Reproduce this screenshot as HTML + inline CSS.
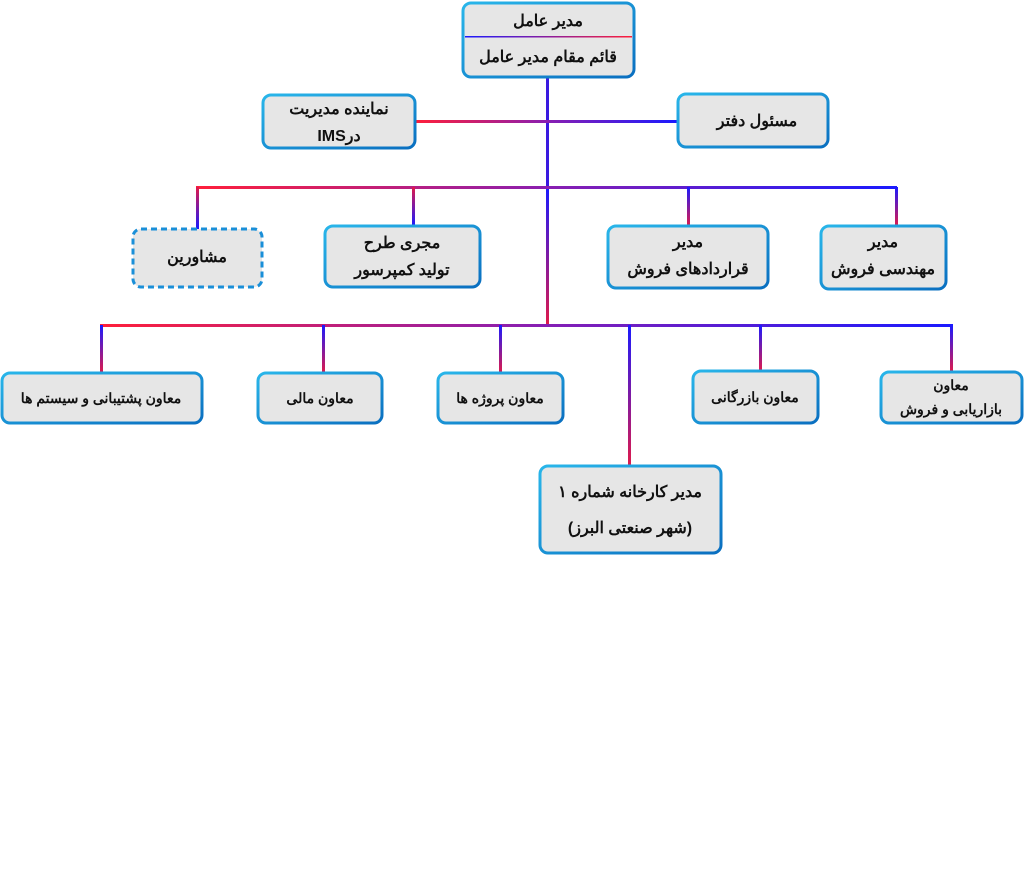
<!DOCTYPE html>
<html><head><meta charset="utf-8"><style>
html,body{margin:0;padding:0;background:#fff;width:1024px;height:895px;overflow:hidden}
svg text{font-family:"Liberation Sans","Noto Sans CJK SC",sans-serif;font-weight:bold;fill:#111}
</style></head><body>
<svg width="1024" height="895" viewBox="0 0 1024 895" xmlns="http://www.w3.org/2000/svg">
<defs>
<linearGradient id="hr" x1="0" x2="1" y1="0" y2="0"><stop offset="0" stop-color="#ff1f3a"/><stop offset="0.5" stop-color="#8a1fb0"/><stop offset="1" stop-color="#1a1aff"/></linearGradient>
<linearGradient id="hb" x1="0" x2="1" y1="0" y2="0"><stop offset="0" stop-color="#1a1aff"/><stop offset="1" stop-color="#ff1f3a"/></linearGradient>
<linearGradient id="vb" x1="0" x2="0" y1="0" y2="1"><stop offset="0" stop-color="#1a1aff"/><stop offset="1" stop-color="#e01a4a"/></linearGradient>
<linearGradient id="vr" x1="0" x2="0" y1="0" y2="1"><stop offset="0" stop-color="#e01a4a"/><stop offset="1" stop-color="#1a1aff"/></linearGradient>
<linearGradient id="bd" x1="0" x2="1" y1="0" y2="1"><stop offset="0" stop-color="#29b6ea"/><stop offset="1" stop-color="#0a6fc0"/></linearGradient>
</defs>
<rect x="546" y="77" width="3" height="110" fill="#3a1ae0"/>
<rect x="546" y="187" width="3" height="138" fill="url(#vb)"/>
<rect x="415" y="120" width="263" height="3" fill="url(#hr)"/>
<rect x="196" y="186" width="701" height="3" fill="url(#hr)"/>
<rect x="100" y="324" width="853" height="3" fill="url(#hr)"/>
<rect x="196" y="187" width="3" height="42" fill="url(#vr)"/>
<rect x="412" y="187" width="3" height="39" fill="url(#vr)"/>
<rect x="687" y="187" width="3" height="39" fill="url(#vb)"/>
<rect x="895" y="187" width="3" height="39" fill="url(#vb)"/>
<rect x="100" y="325" width="3" height="48" fill="url(#vb)"/>
<rect x="322" y="325" width="3" height="48" fill="url(#vb)"/>
<rect x="499" y="325" width="3" height="48" fill="url(#vb)"/>
<rect x="628" y="325" width="3" height="141" fill="url(#vb)"/>
<rect x="759" y="325" width="3" height="46" fill="url(#vb)"/>
<rect x="950" y="325" width="3" height="47" fill="url(#vb)"/>
<g fill="#e6e6e6" stroke="url(#bd)" stroke-width="3">
<rect x="463" y="3" width="171" height="74" rx="8"/>
<rect x="263" y="95" width="152" height="53" rx="8"/>
<rect x="678" y="94" width="150" height="53" rx="8"/>
<rect x="133" y="229" width="129" height="58" rx="8" stroke-dasharray="6 4" stroke="#1a8fd8"/>
<rect x="325" y="226" width="155" height="61" rx="8"/>
<rect x="608" y="226" width="160" height="62" rx="8"/>
<rect x="821" y="226" width="125" height="63" rx="8"/>
<rect x="2" y="373" width="200" height="50" rx="8"/>
<rect x="258" y="373" width="124" height="50" rx="8"/>
<rect x="438" y="373" width="125" height="50" rx="8"/>
<rect x="693" y="371" width="125" height="52" rx="8"/>
<rect x="881" y="372" width="141" height="51" rx="8"/>
<rect x="540" y="466" width="181" height="87" rx="8"/>
</g>
<rect x="465" y="36" width="167" height="1.5" fill="url(#hb)"/>
<g text-anchor="middle" direction="rtl" font-size="16">
<text x="548" y="26">مدیر عامل</text>
<text x="548" y="62">قائم مقام مدیر عامل</text>
<text x="339" y="114">نماینده مدیریت</text>
<text x="339" y="141" font-weight="normal">درIMS</text>
<text x="757" y="126">مسئول دفتر</text>
<text x="197" y="262">مشاورین</text>
<text x="402" y="248">مجری طرح</text>
<text x="402" y="275">تولید کمپرسور</text>
<text x="688" y="247">مدیر</text>
<text x="688" y="274">قراردادهای فروش</text>
<text x="883" y="247">مدیر</text>
<text x="883" y="274">مهندسی فروش</text>
<text x="101" y="403" font-size="14">معاون پشتیبانی و سیستم ها</text>
<text x="320" y="403" font-size="14">معاون مالی</text>
<text x="500" y="403" font-size="14">معاون پروژه ها</text>
<text x="755" y="402" font-size="14">معاون بازرگانی</text>
<text x="951" y="390" font-size="14">معاون</text>
<text x="951" y="414" font-size="14">بازاریابی و فروش</text>
<text x="630" y="497">مدیر کارخانه شماره ۱</text>
<text x="630" y="533">(شهر صنعتی البرز)</text>
</g>
</svg>
</body></html>
